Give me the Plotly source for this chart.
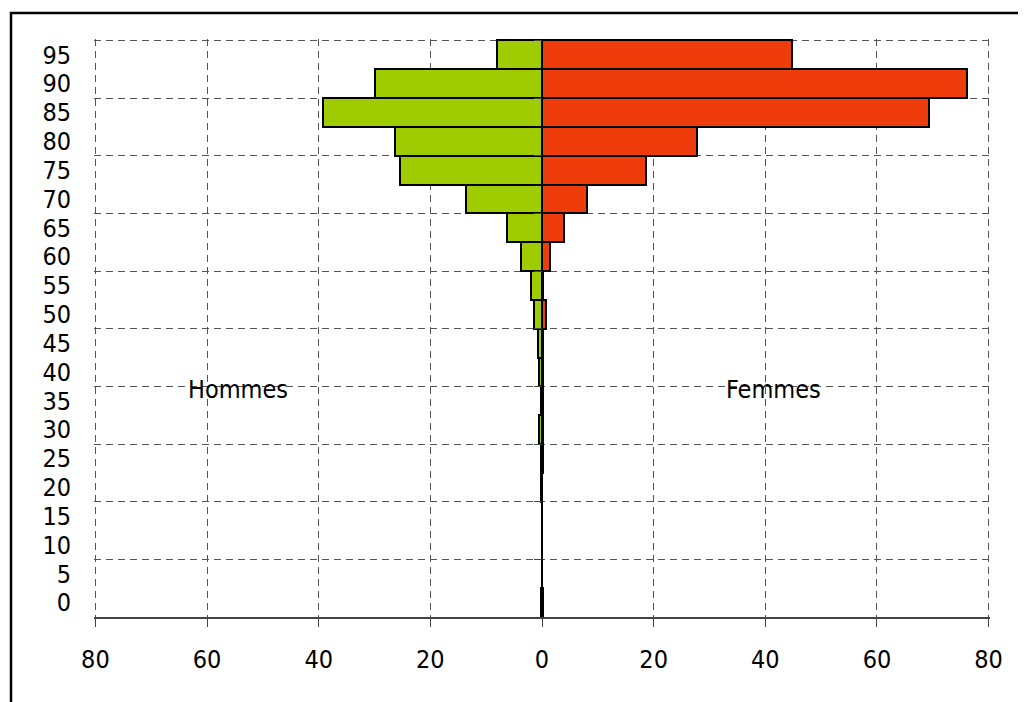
import plotly.graph_objects as go

ages = [0, 5, 10, 15, 20, 25, 30, 35, 40, 45, 50, 55, 60, 65, 70, 75, 80, 85, 90, 95]
hommes = [0.1, 0, 0, 0, 0.1, 0.2, 0.5, 0.2, 0.5, 0.8, 1.4, 2.0, 3.8, 6.3, 13.7, 25.4, 26.3, 39.3, 30.0, 8.1]
femmes = [0.2, 0, 0, 0, 0.05, 0.1, 0.1, 0.2, 0.1, 0.1, 0.7, 0.2, 1.4, 3.9, 8.0, 18.6, 27.7, 69.3, 76.1, 44.8]
x_ticks = [-80, -60, -40, -20, 0, 20, 40, 60, 80]
x_labels = [str(abs(v)) for v in x_ticks]
grid_y = [-2.5, 7.5, 17.5, 27.5, 37.5, 47.5, 57.5, 67.5, 77.5, 87.5, 97.5]

FONT = "DejaVu Sans Condensed, Open Sans, sans-serif"
W, H = 1026, 702
L, R, T, B = 86, 44, 31, 93
# petite marge pour que plotly garde les lignes de grille des bords
XPAD, YPAD = 0.25, 0.25

fig = go.Figure()
fig.add_trace(go.Bar(y=ages, x=[-v for v in hommes], orientation="h", width=5,
                     marker=dict(color="#9FCC00", line=dict(color="black", width=2)),
                     name="Hommes", showlegend=False))
fig.add_trace(go.Bar(y=ages, x=femmes, orientation="h", width=5,
                     marker=dict(color="#EE3D0A", line=dict(color="black", width=2)),
                     name="Femmes", showlegend=False))
# trace vide pour l'axe des ages au milieu (grille + trait du zero)
fig.add_trace(go.Scatter(x=[None], y=[None], yaxis="y2", showlegend=False, hoverinfo="skip"))

yr = [-2.5, 97.5 + YPAD]
fig.update_layout(
    width=W, height=H,
    margin=dict(l=L, r=R, t=T, b=B),
    paper_bgcolor="white", plot_bgcolor="white",
    barmode="overlay", bargap=0,
    font=dict(family=FONT, size=25, color="black"),
    xaxis=dict(range=[-80 - XPAD, 80 + XPAD], tickvals=x_ticks, ticktext=x_labels,
               showgrid=True, gridcolor="#555555", griddash="7px,5px", gridwidth=1,
               zeroline=False, showline=True, linecolor="#444444", linewidth=1.5,
               ticks="outside", ticklen=8, tickcolor="#444444", ticklabelstandoff=11),
    yaxis=dict(range=yr, tickvals=ages, showgrid=False, zeroline=False,
               showline=False, ticks="", ticklabelstandoff=22),
    yaxis2=dict(range=yr, overlaying="y", anchor="free", position=0.5, side="left",
                tickvals=grid_y, showticklabels=False,
                showgrid=True, gridcolor="#555555", griddash="7px,5px", gridwidth=1,
                zeroline=False, showline=True, linecolor="black", linewidth=1,
                ticks="outside", ticklen=8, tickcolor="#444444"),
    annotations=[
        dict(x=-54.5, y=37, xref="x", yref="y", text="Hommes", showarrow=False,
             font=dict(size=25)),
        dict(x=41.5, y=37, xref="x", yref="y", text="Femmes", showarrow=False,
             font=dict(size=25)),
    ],
    shapes=[
        dict(type="rect", xref="paper", yref="paper",
             x0=(3 - L) / (W - L - R), x1=1.2,
             y0=-0.3, y1=1 + (T - 5) / (H - T - B),
             line=dict(color="black", width=2.5), layer="below"),
    ],
)

fig.write_html("out.html")
